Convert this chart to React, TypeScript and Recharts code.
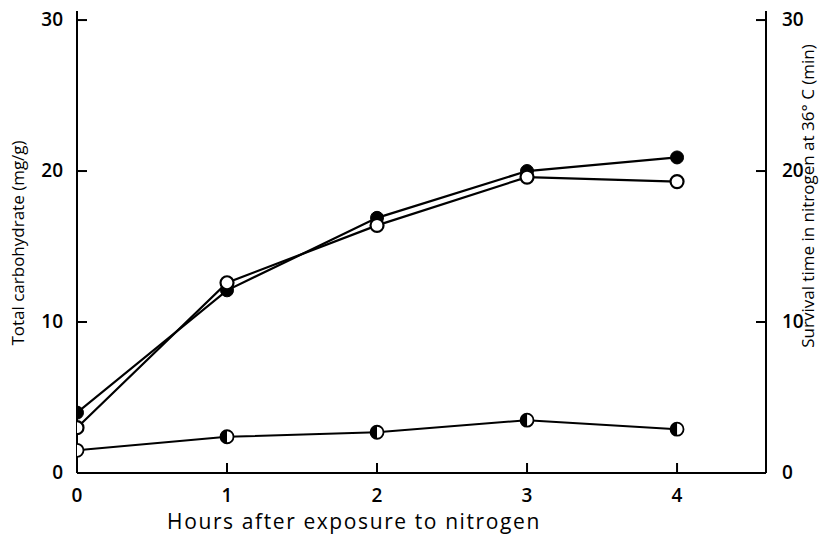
import { LineChart, Line, XAxis, YAxis, Label } from 'recharts';

const hours = [0, 1, 2, 3, 4];
const filledCarb = [4.0, 12.1, 16.9, 20.0, 20.9];
const openSurvival = [3.0, 12.6, 16.4, 19.6, 19.3];
const halfCarb = [1.5, 2.4, 2.7, 3.5, 2.9];
const xTicks = [0, 1, 2, 3, 4];
const yTicks = [0, 10, 20, 30];

const rows = hours.map((h, i) => ({
  h,
  filled: filledCarb[i],
  open: openSurvival[i],
  half: halfCarb[i],
}));

const FONT = '"Open Sans", sans-serif';

function LeftTick({ x, y, payload }: any) {
  return (
    <g>
      <line x1={x} y1={y} x2={x + 10} y2={y} stroke="#000" strokeWidth={2} />
      <text x={x - 14} y={y} dy={6} textAnchor="end" fontSize={19} fontWeight={600} fontFamily={FONT} fill="#000">
        {payload.value}
      </text>
    </g>
  );
}

function RightTick({ x, y, payload }: any) {
  return (
    <g>
      <line x1={x} y1={y} x2={x - 10} y2={y} stroke="#000" strokeWidth={2} />
      <text x={x + 16} y={y} dy={6} textAnchor="start" fontSize={19} fontWeight={600} fontFamily={FONT} fill="#000">
        {payload.value}
      </text>
    </g>
  );
}

function BottomTick({ x, y, payload }: any) {
  return (
    <g>
      <line x1={x} y1={y} x2={x} y2={y - 10} stroke="#000" strokeWidth={2} />
      <text x={x} y={y + 29} textAnchor="middle" fontSize={19} fontWeight={600} fontFamily={FONT} fill="#000">
        {payload.value}
      </text>
    </g>
  );
}

function HalfDot({ cx, cy }: any) {
  const r = 6.5;
  return (
    <g key={`half-${cx}`}>
      <circle cx={cx} cy={cy} r={r} fill="#fff" stroke="#000" strokeWidth={1.8} />
      <path d={`M ${cx} ${cy - r} A ${r} ${r} 0 0 0 ${cx} ${cy + r} Z`} fill="#000" />
    </g>
  );
}

export default function App() {
  return (
    <div style={{ position: 'absolute', left: 0, top: 0, background: '#fff' }}>
      <LineChart width={836} height={540} data={rows} margin={{ top: 11, right: 0, bottom: 0, left: 0 }}>
        <XAxis
          dataKey="h"
          type="number"
          domain={[0, 4.593]}
          ticks={xTicks}
          allowDataOverflow
          height={67}
          tickSize={0}
          tickMargin={0}
          tickLine={false}
          tick={<BottomTick />}
          axisLine={{ stroke: '#000', strokeWidth: 2 }}
        >
          <Label
            content={() => (
              <text
                x={354}
                y={529}
                textAnchor="middle"
                fontSize={21}
                letterSpacing={1.6}
                fontWeight={500}
                fontFamily={FONT}
                fill="#000"
              >
                Hours after exposure to nitrogen
              </text>
            )}
          />
        </XAxis>
        <YAxis
          yAxisId="left"
          domain={[0, 30.6]}
          ticks={yTicks}
          width={77}
          tickSize={0}
          tickMargin={0}
          tickLine={false}
          tick={<LeftTick />}
          axisLine={{ stroke: '#000', strokeWidth: 2 }}
        >
          <Label
            content={() => (
              <text
                x={24}
                y={243}
                transform="rotate(-90 24 243)"
                textAnchor="middle"
                fontSize={17}
                fontWeight={500}
                fontFamily={FONT}
                fill="#000"
              >
                Total carbohydrate (mg/g)
              </text>
            )}
          />
        </YAxis>
        <YAxis
          yAxisId="right"
          orientation="right"
          domain={[0, 30.6]}
          ticks={yTicks}
          width={70}
          tickSize={0}
          tickMargin={0}
          tickLine={false}
          tick={<RightTick />}
          axisLine={{ stroke: '#000', strokeWidth: 2 }}
        >
          <Label
            content={() => (
              <text
                x={814}
                y={196}
                transform="rotate(-90 814 196)"
                textAnchor="middle"
                fontSize={17}
                fontWeight={500}
                fontFamily={FONT}
                fill="#000"
              >
                Survival time in nitrogen at 36° C (min)
              </text>
            )}
          />
        </YAxis>
        <Line
          yAxisId="left"
          dataKey="half"
          stroke="#000"
          strokeWidth={2}
          dot={<HalfDot />}
          isAnimationActive={false}
        />
        <Line
          yAxisId="left"
          dataKey="filled"
          stroke="#000"
          strokeWidth={2.2}
          dot={{ r: 6.5, fill: '#000', stroke: '#000', strokeWidth: 1 }}
          isAnimationActive={false}
        />
        <Line
          yAxisId="right"
          dataKey="open"
          stroke="#000"
          strokeWidth={2.2}
          dot={{ r: 6.5, fill: '#fff', stroke: '#000', strokeWidth: 2.2 }}
          isAnimationActive={false}
        />
      </LineChart>
    </div>
  );
}
